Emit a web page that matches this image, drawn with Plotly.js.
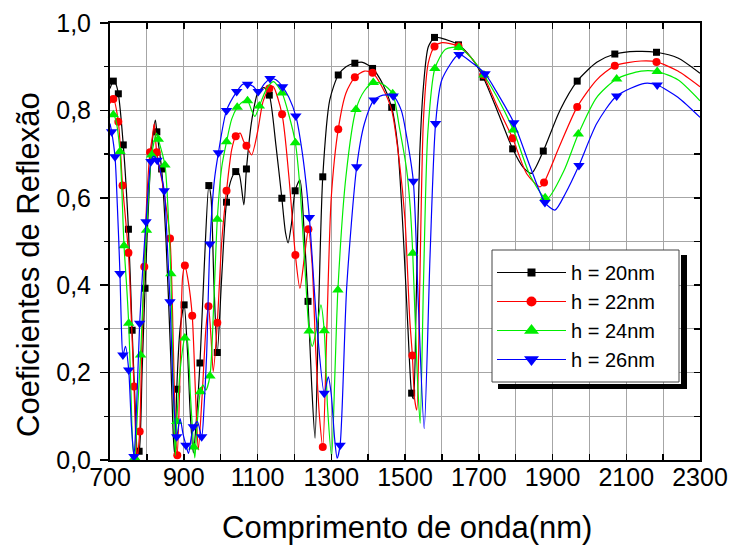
<!DOCTYPE html>
<html>
<head>
<meta charset="utf-8">
<script src="https://cdn.plot.ly/plotly-3.0.1.min.js"></script>
<style>html,body{margin:0;padding:0;background:#fff;}#chart{width:732px;height:550px;}</style>
</head>
<body>
<div id="chart"></div>
<script>
// ---- data ----
const seriesNames = ['h = 20nm', 'h = 22nm', 'h = 24nm', 'h = 26nm'];

// h = 20nm (black) - curve
const x20 = [700,709,715,722.6,736,750,760,768,775,779,787,795,808,816,823,827,840,852,864,872,876,881,890,901,910,918,926,935,944,956,968,974,982,991,1003,1016,1030,1041,1050,1063,1070,1085,1102,1118,1132,1150,1166,1176,1183,1192,1202,1215,1226,1237,1247,1256,1266,1277,1296,1319,1340,1364,1385,1412,1440,1464,1480,1495,1508,1518,1523,1530,1540,1550,1563,1580,1600,1645,1680,1712,1750,1792,1820,1843,1875,1920,1967,2020,2069,2128,2182,2240,2300];
const y20 = [.85,.867,.862,.838,.721,.528,.297,.13,.015,.02,.2,.393,.65,.74,.778,.751,.666,.5,.25,.05,.01,.162,.3,.355,.25,.1,.016,.1,.222,.45,.628,.6,.4,.246,.42,.59,.645,.66,.655,.584,.666,.78,.843,.852,.835,.72,.599,.52,.497,.54,.616,.641,.53,.363,.17,.05,.35,.648,.824,.881,.9,.908,.91,.896,.86,.807,.72,.52,.3,.153,.14,.35,.7,.855,.945,.967,.965,.95,.92,.876,.8,.712,.67,.656,.707,.8,.867,.91,.929,.935,.933,.92,.885];
// h = 20nm - symbols
const mx20 = [709,722.6,736,750,760,779,795,827,840,881,901,944,968,991,1016,1041,1070,1132,1166,1202,1237,1277,1319,1364,1412,1464,1518,1580,1645,1712,1792,1875,1967,2069,2182];
const my20 = [.867,.838,.721,.528,.297,.02,.393,.751,.666,.162,.355,.222,.628,.246,.59,.66,.666,.835,.599,.616,.363,.648,.881,.908,.896,.807,.153,.967,.95,.876,.712,.707,.867,.929,.933];

// h = 22nm (red)
const x22 = [700,709,722.6,734,750,758,765,770,774,780.5,786,793,800,808.5,815,820,826.6,845,862.7,872,877,882.5,890,897,903,912,923,932,939.5,950,960,967,974,980,991,1003,1016,1030,1041,1053,1062,1070,1084,1100,1115,1132,1142,1166.6,1185,1202.7,1215,1228,1238,1248,1258,1268,1277,1288,1300,1319,1340,1364,1390,1412,1440,1464,1485,1500,1513,1520,1526,1532,1540,1550,1563,1580,1600,1645,1680,1712,1750,1792,1830,1866,1877,1920,1967,2020,2069,2140,2182,2240,2300];
const y22 = [.816,.826,.774,.628,.474,.32,.168,.05,.005,.065,.25,.442,.6,.704,.74,.77,.704,.62,.507,.25,.08,.011,.2,.42,.445,.41,.33,.15,.023,.15,.3,.352,.28,.202,.314,.5,.616,.71,.741,.748,.73,.719,.698,.75,.82,.85,.855,.791,.65,.469,.393,.47,.528,.45,.25,.1,.03,.3,.6,.757,.84,.876,.89,.886,.85,.8,.68,.55,.32,.239,.14,.114,.4,.778,.908,.946,.955,.947,.92,.881,.81,.736,.655,.625,.635,.72,.808,.87,.902,.913,.911,.89,.854];
const mx22 = [709,722.6,734,750,765,780.5,793,808.5,826.6,862.7,882.5,903,923,967,991,1016,1041,1070,1132,1166.6,1202.7,1238,1277,1319,1364,1412,1520,1580,1645,1712,1792,1877,1967,2069,2182];
const my22 = [.826,.774,.628,.474,.168,.065,.442,.704,.704,.507,.011,.445,.33,.352,.314,.616,.741,.719,.85,.791,.469,.528,.03,.757,.876,.886,.239,.946,.947,.881,.736,.635,.808,.902,.911];

// h = 24nm (green)
const x24 = [700,709,715,727,738,745,750.7,756,762,767,775,783,790,799,813,826,831,849,857,865,872,877,881,892,903,908,918,925,930,936,945,952,960,971,981,991,1003,1016,1030,1045,1060,1073,1084,1093,1105,1125,1143,1166.6,1185,1202.7,1215,1229,1240,1248.6,1260,1272,1281,1290,1301,1310,1318,1340,1367,1390,1414,1440,1466.6,1485,1504.5,1514,1521,1533,1541,1550,1562,1581,1610,1646,1680,1714,1750,1794,1840,1885,1930,1970,2020,2074,2140,2184,2240,2300];
const y24 = [.786,.79,.78,.706,.49,.4,.313,.18,.03,.005,.12,.24,.38,.526,.698,.748,.734,.675,.58,.426,.15,.01,.088,.22,.279,.28,.15,.05,.005,.08,.156,.172,.16,.192,.35,.551,.67,.728,.78,.807,.82,.822,.8,.786,.81,.85,.866,.84,.79,.726,.625,.435,.295,.26,.3,.355,.296,.12,.008,.2,.389,.65,.802,.845,.864,.86,.838,.76,.664,.58,.473,.2,.084,.4,.75,.896,.94,.944,.92,.881,.83,.755,.65,.598,.66,.746,.83,.872,.89,.889,.87,.822];
const mx24 = [709,727,738,750.7,767,783,799,813,831,849,865,881,903,927,945,971,991,1016,1045,1073,1105,1166.6,1202.7,1240,1281,1318,1367,1414,1466.6,1521,1581,1646,1714,1794,1880,1970,2074,2184];
const my24 = [.79,.706,.49,.313,.005,.24,.526,.698,.734,.675,.426,.088,.279,.03,.156,.192,.551,.728,.807,.822,.81,.84,.726,.295,.296,.389,.802,.864,.838,.473,.896,.944,.881,.755,.6,.746,.872,.889];

// h = 26nm (blue)
const x26 = [700,704.5,713.6,720,727,731,735,742,750.7,758,765,772,780.5,789,797.6,811,818,828,847,855,862.7,872,880.8,890,898,906,913,920,926,937,948.6,955,962,971,983,994,1016,1043.6,1060,1073,1088,1102,1118,1134,1150,1168,1185,1204,1222,1240.6,1260,1281,1292,1300,1309,1316,1324,1342,1369,1390,1416,1440,1468,1490,1504.5,1522.6,1536,1552,1568,1583,1600,1646.5,1680,1717,1750,1795,1840,1879.5,1906.6,1935,1971.7,2020,2074,2150,2184,2240,2300];
const y26 = [.77,.751,.694,.58,.427,.3,.24,.26,.206,.08,.008,.12,.313,.44,.545,.683,.695,.686,.616,.5,.362,.15,.053,.095,.06,.034,.015,.05,.076,.088,.053,.12,.24,.494,.64,.703,.8,.843,.86,.86,.855,.843,.86,.873,.87,.854,.83,.787,.7,.555,.32,.153,.19,.15,.05,.004,.034,.397,.671,.77,.824,.835,.833,.8,.74,.638,.36,.072,.47,.77,.87,.928,.91,.884,.84,.772,.67,.589,.572,.61,.674,.77,.833,.862,.858,.83,.784];
const mx26 = [704.5,713.6,727,735,750.7,765,780.5,797.6,811,828,847,862.7,880.8,906,926,948.6,971,994,1016,1043.6,1073,1102,1134,1168,1204,1240.6,1281,1324,1369,1416,1468,1522.6,1583,1646.5,1717,1795,1879.5,1971.7,2074,2184];
const my26 = [.751,.694,.427,.24,.206,.008,.313,.545,.683,.686,.616,.362,.053,.034,.076,.053,.494,.703,.8,.843,.86,.843,.873,.854,.787,.555,.153,.034,.671,.824,.833,.638,.77,.928,.884,.772,.589,.674,.833,.858];

// tick labels
const xTickVals = [700,900,1100,1300,1500,1700,1900,2100,2300];
const xTickText = ['700','900','1100','1300','1500','1700','1900','2100','2300'];
const yTickVals = [0,0.2,0.4,0.6,0.8,1.0];
const yTickText = ['0,0','0,2','0,4','0,6','0,8','1,0'];

// ---- styling ----
const FONT = 'Liberation Sans, Arial, sans-serif';
const colors = ['#000000', '#ff0000', '#00ee00', '#0000ff'];
const symbols = ['square', 'circle', 'triangle-up', 'triangle-down'];
const msize = [7, 8, 10, 10];
const legSize = [8, 10, 13, 13];

const curves = [[x20, y20], [x22, y22], [x24, y24], [x26, y26]];
const marks = [[mx20, my20], [mx22, my22], [mx24, my24], [mx26, my26]];

const traces = [];
for (let i = 0; i < 4; i++) {
  traces.push({
    x: curves[i][0], y: curves[i][1], type: 'scatter', mode: 'lines',
    line: {color: colors[i], width: 1.2, shape: 'spline', smoothing: 0.7},
    showlegend: false, hoverinfo: 'skip'
  });
  traces.push({
    x: marks[i][0], y: marks[i][1], type: 'scatter', mode: 'markers',
    marker: {color: colors[i], symbol: symbols[i], size: msize[i], line: {width: 0}},
    showlegend: false, cliponaxis: false, hoverinfo: 'skip'
  });
}
for (let i = 0; i < 4; i++) {
  traces.push({
    x: [null], y: [null], type: 'scatter', mode: 'lines+markers', name: seriesNames[i],
    line: {color: colors[i], width: 1.2},
    marker: {color: colors[i], symbol: symbols[i], size: legSize[i], line: {width: 0}},
    yaxis: i === 3 ? 'y2' : 'y', showlegend: true
  });
}

const gridC = '#a6a6a6';
const px2x = p => (p - 110) / 590;
const py2y = p => (460 - p) / 437;

const layout = {
  width: 732, height: 550,
  margin: {l: 110, r: 32, t: 23, b: 90, pad: 0},
  paper_bgcolor: '#fff', plot_bgcolor: '#fff',
  font: {family: FONT, color: '#000'},
  showlegend: true,
  xaxis: {
    range: [700, 2300], tickmode: 'array', tickvals: xTickVals, ticktext: xTickText,
    ticks: 'inside', ticklen: 6, tickwidth: 1.5, tickcolor: '#000',
    showline: true, linecolor: '#000', linewidth: 2, mirror: 'ticks',
    showgrid: true, gridcolor: gridC, gridwidth: 1, zeroline: false,
    minor: {tickmode: 'linear', tick0: 700, dtick: 100, ticks: 'inside', ticklen: 6, tickwidth: 1.5, tickcolor: '#000', showgrid: true, gridcolor: gridC, gridwidth: 1},
    tickfont: {size: 25, family: FONT}, ticklabelstandoff: -6
  },
  yaxis: {
    range: [0, 1], tickmode: 'array', tickvals: yTickVals, ticktext: yTickText,
    ticks: 'outside', ticklen: 8, tickwidth: 1.5, tickcolor: '#000',
    showline: true, linecolor: '#000', linewidth: 2, mirror: true,
    showgrid: true, gridcolor: gridC, gridwidth: 1, zeroline: false,
    minor: {tickmode: 'linear', tick0: 0, dtick: 0.1, ticks: 'outside', ticklen: 4, tickwidth: 1.5, tickcolor: '#000', showgrid: true, gridcolor: gridC, gridwidth: 1},
    tickfont: {size: 25, family: FONT}, ticklabelstandoff: 4
  },
  yaxis2: {
    overlaying: 'y', side: 'right', range: [0, 1], matches: 'y',
    tickmode: 'array', tickvals: yTickVals, ticks: 'inside', ticklen: 6, tickwidth: 1.5, tickcolor: '#000',
    minor: {tickmode: 'linear', tick0: 0, dtick: 0.1, ticks: 'inside', ticklen: 6, tickwidth: 1.5, tickcolor: '#000', showgrid: false},
    showticklabels: false, showgrid: false, showline: false, zeroline: false
  },
  legend: {
    x: px2x(492), y: py2y(253), xanchor: 'left', yanchor: 'top',
    bgcolor: 'rgba(0,0,0,0)', borderwidth: 0,
    font: {size: 20, family: FONT}, itemwidth: 69, tracegroupgap: 0
  },
  annotations: [
    {text: 'Comprimento de onda(nm)', xref: 'paper', yref: 'paper', x: px2x(407), y: py2y(527),
     xanchor: 'center', yanchor: 'middle', showarrow: false, font: {size: 31, family: FONT}},
    {text: 'Coeficientes de Reflexão', xref: 'paper', yref: 'paper', x: px2x(28), y: py2y(265),
     xanchor: 'center', yanchor: 'middle', textangle: -90, showarrow: false, font: {size: 31, family: FONT}}
  ],
  shapes: [
    // legend frame and its drop shadow
    {type: 'rect', xref: 'paper', yref: 'paper', x0: px2x(492), x1: px2x(679), y0: py2y(382), y1: py2y(250), fillcolor: '#fff', line: {color: '#444', width: 1}, layer: 'above'},
    {type: 'rect', xref: 'paper', yref: 'paper', x0: px2x(681), x1: px2x(687), y0: py2y(389), y1: py2y(255), fillcolor: '#000', line: {width: 0}, layer: 'above'},
    {type: 'rect', xref: 'paper', yref: 'paper', x0: px2x(498), x1: px2x(687), y0: py2y(389), y1: py2y(384), fillcolor: '#000', line: {width: 0}, layer: 'above'}
  ]
};

Plotly.newPlot('chart', traces, layout, {staticPlot: true, displayModeBar: false});
</script>
</body>
</html>
